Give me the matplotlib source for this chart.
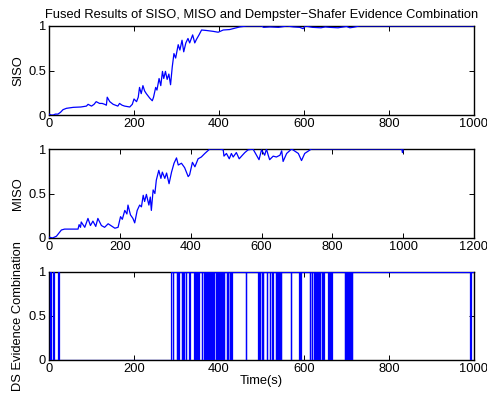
import matplotlib
matplotlib.use("Agg")
import matplotlib.pyplot as plt

plt.rcParams['font.family'] = ['Liberation Sans', 'DejaVu Sans']

# ---------------- data ----------------
siso_t = [0, 5, 10, 15, 21, 27, 33, 41, 57, 75, 88, 92, 100, 106, 111, 119, 125, 131, 135, 137,
          143, 151, 162, 166, 172, 178, 190, 196, 200, 206, 210, 213, 217, 221, 225, 229, 237, 243,
          246, 251, 254, 259, 263, 267, 270, 274, 278, 282, 286, 290, 294, 298, 304, 308, 313,
          317, 322, 327, 331, 338, 343, 347, 353, 359, 370, 386, 398, 410, 425, 449, 465, 500,
          505, 520, 540, 560, 575, 590, 598, 603, 620, 640, 650, 660, 680, 700, 708, 715, 730,
          800, 900, 1000]
siso_v = [0.01, 0.0, 0.0, 0.01, 0.01, 0.03, 0.06, 0.075, 0.086, 0.09, 0.10, 0.12, 0.10, 0.12, 0.15,
          0.13, 0.13, 0.12, 0.11, 0.20, 0.15, 0.12, 0.10, 0.13, 0.11, 0.10, 0.09, 0.12, 0.18, 0.15,
          0.20, 0.31, 0.24, 0.33, 0.27, 0.24, 0.19, 0.16, 0.20, 0.31, 0.28, 0.41, 0.33, 0.49, 0.41,
          0.49, 0.40, 0.46, 0.34, 0.54, 0.69, 0.64, 0.79, 0.73, 0.84, 0.71, 0.81, 0.86, 0.81, 0.90,
          0.81, 0.85, 0.90, 0.955, 0.95, 0.94, 0.93, 0.955, 0.96, 0.99, 1.0, 1.0, 0.985, 0.99, 0.985,
          1.0, 0.99, 0.985, 0.97, 1.0, 0.985, 0.98, 0.99, 0.985, 0.98, 0.995, 0.98, 0.985, 1.0,
          1.0, 1.0, 1.0]

miso_t = [0, 10, 21, 35, 44, 82, 85, 89, 91, 101, 110, 117, 124, 132, 138, 148, 157, 167, 186, 195,
          202, 207, 214, 220, 223, 230, 237, 242, 249, 256, 261, 266, 270, 275, 282, 286, 289, 294,
          299, 303, 310, 316, 320, 327, 332, 339, 346, 353, 360, 365, 374, 383, 393, 397, 405, 412,
          421, 430, 440, 454, 482, 492, 494, 501, 509, 515, 520, 529, 537, 546, 553, 562, 576, 593,
          600, 609, 614, 619, 623, 633, 642, 652, 657, 661, 671, 685, 704, 713, 722, 741, 996, 998,
          1000]
miso_v = [0.01, 0.0, 0.02, 0.09, 0.10, 0.10, 0.15, 0.12, 0.18, 0.12, 0.22, 0.14, 0.19, 0.13, 0.22,
          0.14, 0.12, 0.16, 0.11, 0.12, 0.24, 0.21, 0.31, 0.27, 0.37, 0.26, 0.22, 0.17, 0.31, 0.37,
          0.35, 0.48, 0.41, 0.49, 0.37, 0.46, 0.31, 0.54, 0.50, 0.65, 0.76, 0.67, 0.74, 0.67, 0.73,
          0.61, 0.74, 0.84, 0.90, 0.82, 0.84, 0.79, 0.69, 0.71, 0.85, 0.80, 0.89, 0.91, 0.95, 1.0,
          1.0, 0.99, 0.92, 0.95, 0.89, 0.95, 0.91, 0.96, 0.89, 0.93, 0.96, 0.99, 1.0, 0.88, 0.99,
          0.93, 1.0, 0.93, 0.88, 0.92, 0.91, 0.93, 0.98, 0.86, 0.95, 1.0, 0.95, 0.87, 0.95, 1.0,
          1.0, 0.96, 0.99]

# DS evidence combination: times at which the 0/1 decision toggles (starts at 0)
ds_toggle_times = [3, 5, 9, 11, 20, 23, 287,
                   291, 292, 300, 301, 304, 305, 312, 313, 316, 317, 322, 323, 330, 331,
                   342, 343, 347, 348, 351, 352, 359, 360,
                   365, 366, 367, 368, 369, 370, 371, 373, 374, 375, 376, 377, 378, 379,
                   380, 381, 382, 383, 384, 385, 386, 388,
                   392, 393, 395, 396, 398, 399, 401, 402, 405, 406, 409, 410, 411, 412,
                   418, 419, 421, 422, 426, 427, 429, 431, 463, 464,
                   492, 493, 495, 496, 500, 501, 503, 504, 512, 513, 520, 521, 524, 526,
                   534, 535, 537, 538, 540, 541, 543, 544, 545, 546, 569, 570,
                   589, 590, 591, 592, 614, 615, 618, 619, 624, 625, 628, 629, 630, 631,
                   633, 634, 636, 637, 642, 643, 645, 646, 657, 658, 660, 661, 663, 665,
                   696, 697, 699, 700, 702, 703, 706, 707, 709, 710, 712, 714,
                   990, 994]

yticks = [0, 0.5, 1]
ytick_labels = ['0', '0.5', '1']
xticks_1000 = [0, 200, 400, 600, 800, 1000]
xticks_1200 = [0, 200, 400, 600, 800, 1000, 1200]

# DS step series
ds_t = [0] + ds_toggle_times + [1000]
ds_v = [0]
for i in range(len(ds_toggle_times)):
    ds_v.append(1 - ds_v[-1])
ds_v.append(ds_v[-1])

# ---------------- figure ----------------
W, H = 487, 401
fig = plt.figure(figsize=(W / 100, H / 100), dpi=100)

def px_axes(x0, y0, x1, y1):
    return fig.add_axes([x0 / W, 1 - y1 / H, (x1 - x0) / W, (y1 - y0) / H])

ax1 = px_axes(49, 26, 474, 115)
ax2 = px_axes(49, 149, 474, 238)
ax3 = px_axes(49, 272, 474, 360)

fs = 9.3
blue = (0, 0, 1)

ax1.plot(siso_t, siso_v, color=blue, lw=0.9)
ax2.plot(miso_t, miso_v, color=blue, lw=0.9)
ax3.step(ds_t, ds_v, where='post', color=blue, lw=0.9)

for ax, xt, xmax, lab in [(ax1, xticks_1000, 1000, 'SISO'),
                          (ax2, xticks_1200, 1200, 'MISO'),
                          (ax3, xticks_1000, 1000, 'DS Evidence Combination')]:
    ax.set_xlim(0, xmax)
    ax.set_ylim(0, 1)
    ax.set_xticks(xt)
    ax.set_xticklabels([str(v) for v in xt])
    ax.set_yticks(yticks)
    ax.set_yticklabels(ytick_labels)
    ax.tick_params(direction='in', top=True, right=True, length=3.5, width=0.7,
                   labelsize=fs, pad=2)
    for s in ax.spines.values():
        s.set_linewidth(1.0)
        s.set_zorder(0.5)
    ax.set_ylabel(lab, fontsize=fs, labelpad=3)

ax1.set_title('Fused Results of SISO, MISO and Dempster\u2212Shafer Evidence Combination',
              fontsize=fs, pad=6)
ax3.set_xlabel('Time(s)', fontsize=fs, labelpad=0)

fig.savefig('out.png', dpi=100)
